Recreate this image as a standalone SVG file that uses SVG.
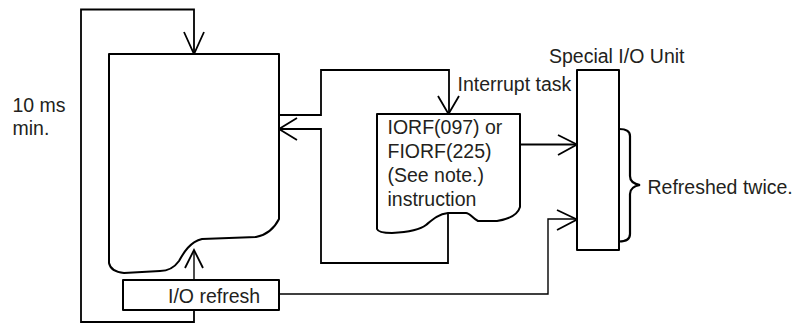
<svg xmlns="http://www.w3.org/2000/svg" width="795" height="324" viewBox="0 0 795 324">
<style>
.box{fill:#fff;stroke:#000;stroke-width:2;stroke-linejoin:round}
.ln{fill:none;stroke:#000;stroke-width:1.8;stroke-linejoin:miter}
.thin{fill:none;stroke:#000;stroke-width:1.4}
.ah{fill:none;stroke:#000;stroke-width:1.8}
text{font-family:"Liberation Sans",Arial,sans-serif;font-size:19.5px;fill:#231f20}
</style>
<rect width="795" height="324" fill="#fff"/>
<g id="connectors">
  <!-- outer cycle loop -->
  <path class="ln" d="M194,310 V322 H81 V9.5 H194 V54"/>
  <path class="ah" d="M184,32 L194,54 L204,32"/>
  <!-- I/O refresh to main program -->
  <path class="thin" d="M194,280 V250"/>
  <path class="ah" d="M185,268 L194,250 L203,268"/>
  <!-- main program to interrupt task -->
  <path class="ln" d="M279,115 H321 V70 H449 V114"/>
  <path class="ah" d="M438,96 L448.5,114 L459,96"/>
  <!-- interrupt task back to main -->
  <path class="ln" d="M448,213 V263 H321 V129 H279"/>
  <path class="ah" d="M297,118 L279,129 L297,140"/>
  <!-- interrupt task to special unit -->
  <path class="ln" d="M520,144.5 H577"/>
  <path class="ah" d="M558,135 L577,144.5 L558,155"/>
  <!-- I/O refresh to special unit -->
  <path class="thin" d="M279,294 H548 V219 H577"/>
  <path class="ah" d="M557,210 L577,219.5 L557,230"/>
</g>
<g id="main-program">
  <path class="box" d="M109,54 H279 V219 C 274,229 266,235 256,237 L 202,239 C 190,242 184,252 179,261 C 174,268 168,271 160,271 L 124,273 C 114,272 110,268 109,263 Z"/>
</g>
<g id="interrupt-task">
  <path class="box" d="M377,114 H520 V207 C 518,214 510,219 497,221 L 478,221 C 472,218 470,213 466,213 L 448,213 C 438,214 432,220 426,225 C 420,230 410,232 392,233 C 385,233 378,232 377,229 Z"/>
  <text x="387.5" y="133.5">IORF(097) or</text>
  <text x="387.5" y="157.5">FIORF(225)</text>
  <text x="387.5" y="181.5">(See note.)</text>
  <text x="387.5" y="205.5">instruction</text>
  <text x="457.5" y="91">Interrupt task</text>
</g>
<g id="special-io-unit">
  <rect class="box" x="577" y="70" width="42" height="180"/>
  <text x="549" y="63">Special I/O Unit</text>
</g>
<g id="io-refresh">
  <rect class="box" x="123" y="280" width="156" height="30"/>
  <text x="168" y="303">I/O refresh</text>
</g>
<g id="refreshed-twice">
  <path fill="none" stroke="#000" stroke-width="2.2" d="M619,129 C626,129 630,131 630,136 V176 C630,181 634,184 640,185 C634,186 630,189 630,194 V234 C630,239 626,241.5 619,241.5"/>
  <text x="647.5" y="194">Refreshed twice.</text>
</g>
<g id="time-label">
  <text x="12.5" y="111.5">10 ms</text>
  <text x="12.5" y="135">min.</text>
</g>
</svg>
